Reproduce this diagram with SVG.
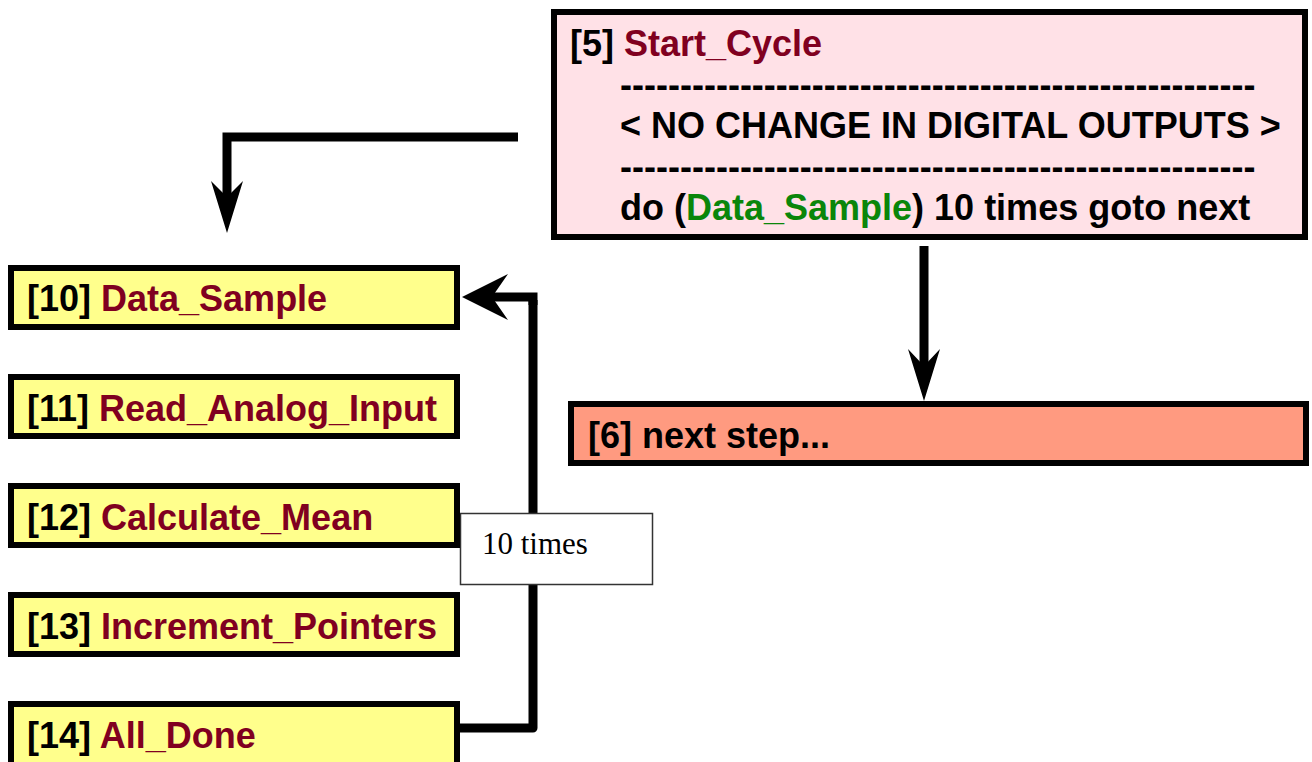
<svg xmlns="http://www.w3.org/2000/svg" width="1312" height="762" viewBox="0 0 1312 762">
  <style>
    .node { stroke: #000; stroke-width: 6; }
    .start { fill: #ffe1e7; }
    .step { fill: #ff9a80; }
    .sub { fill: #ffff8c; }
    .t { font-family: "Liberation Sans", Arial, sans-serif; font-weight: bold; font-size: 36px; fill: #000; }
    .name { fill: #800020; }
    .ref { fill: #0a860a; }
    .wire { fill: none; stroke: #000; stroke-width: 9; }
    .head { fill: #000; }
    .lbl-box { fill: #fff; stroke: #333; stroke-width: 1.5; }
    .lbl { font-family: "Liberation Serif", "Times New Roman", serif; font-size: 31px; fill: #000; }
  </style>

  <!-- connectors -->
  <g id="connectors">
    <!-- Start_Cycle -> Data_Sample -->
    <path class="wire" d="M518,137 H227 V200" stroke-linejoin="miter"/>
    <polygon class="head" points="227,233 243,181 227,197 211,181"/>
    <!-- Start_Cycle -> next step -->
    <path class="wire" d="M924,246 V368"/>
    <polygon class="head" points="924,401 940,349 924,366 908,349"/>
    <!-- All_Done loops back to Data_Sample -->
    <path class="wire" d="M460,728 H533 V300" stroke-linejoin="round"/>
    <path class="wire" d="M533,305 V297 H492" stroke-linejoin="miter"/>
    <polygon class="head" points="462,297 508,274 492,297 508,320"/>
    <!-- loop label -->
    <rect class="lbl-box" x="460.5" y="513.5" width="192" height="71"/>
    <text class="lbl" x="482" y="554">10 times</text>
  </g>

  <g id="node-5">
    <rect class="node start" x="554" y="12" width="751" height="225"/>
    <text class="t" x="570" y="56">[5] <tspan class="name">Start_Cycle</tspan></text>
    <text class="t" x="620" y="97">-----------------------------------------------------</text>
    <text class="t" x="620" y="138">&lt; NO CHANGE IN DIGITAL OUTPUTS &gt;</text>
    <text class="t" x="620" y="179">-----------------------------------------------------</text>
    <text class="t" x="620" y="220">do (<tspan class="ref">Data_Sample</tspan>) 10 times goto next</text>
  </g>

  <g id="node-6">
    <rect class="node step" x="571" y="404" width="735" height="59"/>
    <text class="t" x="588" y="448">[6] next step...</text>
  </g>

  <g id="node-10">
    <rect class="node sub" x="11" y="268" width="446" height="59"/>
    <text class="t" x="27" y="311">[10] <tspan class="name">Data_Sample</tspan></text>
  </g>

  <g id="node-11">
    <rect class="node sub" x="11" y="377" width="446" height="59"/>
    <text class="t" x="27" y="421">[11] <tspan class="name">Read_Analog_Input</tspan></text>
  </g>

  <g id="node-12">
    <rect class="node sub" x="11" y="486" width="446" height="59"/>
    <text class="t" x="27" y="530">[12] <tspan class="name">Calculate_Mean</tspan></text>
  </g>

  <g id="node-13">
    <rect class="node sub" x="11" y="595" width="446" height="59"/>
    <text class="t" x="27" y="639">[13] <tspan class="name">Increment_Pointers</tspan></text>
  </g>

  <g id="node-14">
    <rect class="node sub" x="11" y="704" width="446" height="62"/>
    <text class="t" x="27" y="748">[14] <tspan class="name">All_Done</tspan></text>
  </g>
</svg>
